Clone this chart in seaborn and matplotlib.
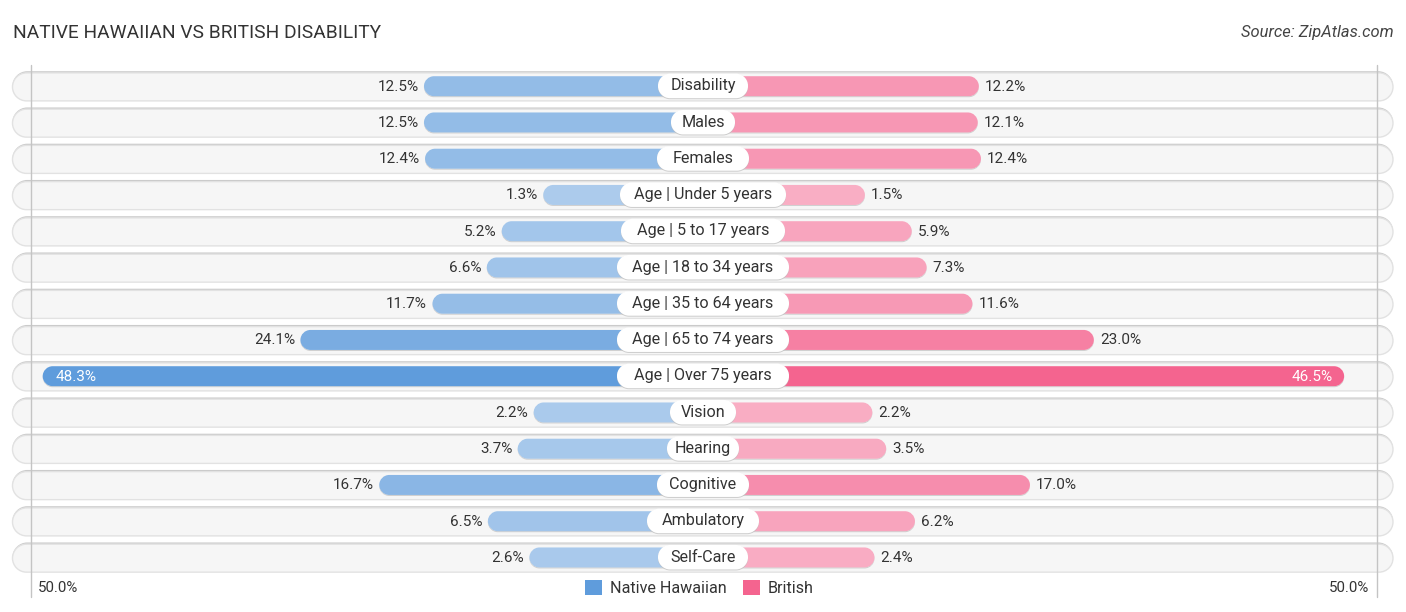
import pandas as pd
import numpy as np
import seaborn as sns
import matplotlib.pyplot as plt
from matplotlib.patches import PathPatch, Patch
from matplotlib.path import Path

#values
categories = ["Disability", "Males", "Females", "Age | Under 5 years", "Age | 5 to 17 years",
              "Age | 18 to 34 years", "Age | 35 to 64 years", "Age | 65 to 74 years",
              "Age | Over 75 years", "Vision", "Hearing", "Cognitive", "Ambulatory", "Self-Care"]
native_hawaiian = [12.5, 12.5, 12.4, 1.3, 5.2, 6.6, 11.7, 24.1, 48.3, 2.2, 3.7, 16.7, 6.5, 2.6]
british = [12.2, 12.1, 12.4, 1.5, 5.9, 7.3, 11.6, 23.0, 46.5, 2.2, 3.5, 17.0, 6.2, 2.4]
pill_widths = [90, 64, 92, 166, 164, 172, 172, 172, 172, 66, 72, 92, 112, 90]

BLUE = "#5f9cdc"
PINK = "#f4648f"
PX_PER_PCT = 10.65  #horizontal scale
ROW_PX = 36.25      #row spacing
START = 13.7        #bars start this far from the middle (hidden under the pill)
W, H = 1406, 612
CENTER = 703
ROW0 = 86.2

sns.set_theme(style="white")
plt.rcParams['font.family'] = ['Roboto', 'DejaVu Sans']

df = pd.DataFrame({
    "category": categories * 2,
    "side": ["Native Hawaiian"] * len(categories) + ["British"] * len(categories),
    "value": native_hawaiian + british,
})
df["pos"] = (df["value"] + START) * np.where(df["side"] == "British", 1, -1)

fig = plt.figure(figsize=(W / 100, H / 100), dpi=100)
ax = fig.add_axes([0, 0, 1, 1])
sns.barplot(data=df, y="category", x="pos", hue="side", dodge=False, width=20 / ROW_PX, saturation=1,
            order=categories, palette={"Native Hawaiian": BLUE, "British": PINK},
            legend=False, ax=ax)
ax.set_xlim(-CENTER / PX_PER_PCT, (W - CENTER) / PX_PER_PCT)
ax.set_ylim((H - ROW0) / ROW_PX, -ROW0 / ROW_PX)
ax.axis("off")

def px(v):
    return v / PX_PER_PCT

def py(v):
    return v / ROW_PX

def round_box(x0, y0, w, h, r, **kw):
    #rounded rectangle with real circular corners, r in pixels
    rx, ry = px(r), py(r)
    k = 1 - 0.5523
    x1, y1 = x0 + w, y0 + h
    verts = [(x0 + rx, y0), (x1 - rx, y0),
             (x1 - k * rx, y0), (x1, y0 + k * ry), (x1, y0 + ry),
             (x1, y1 - ry),
             (x1, y1 - k * ry), (x1 - k * rx, y1), (x1 - rx, y1),
             (x0 + rx, y1),
             (x0 + k * rx, y1), (x0, y1 - k * ry), (x0, y1 - ry),
             (x0, y0 + ry),
             (x0, y0 + k * ry), (x0 + k * rx, y0), (x0 + rx, y0),
             (x0 + rx, y0)]
    codes = [Path.MOVETO, Path.LINETO, Path.CURVE4, Path.CURVE4, Path.CURVE4, Path.LINETO,
             Path.CURVE4, Path.CURVE4, Path.CURVE4, Path.LINETO,
             Path.CURVE4, Path.CURVE4, Path.CURVE4, Path.LINETO,
             Path.CURVE4, Path.CURVE4, Path.CURVE4, Path.CLOSEPOLY]
    p = PathPatch(Path(verts, codes), **kw)
    ax.add_patch(p)
    return p

def bar_alpha(v):
    #stronger colour for the bigger values
    return min(1.0, 0.5 + 0.0138 * v)

seaborn_bars = list(ax.patches)

#tracks behind the bars
track_x0 = (12.5 - CENTER) / PX_PER_PCT
track_w = (1393 - 12.5) / PX_PER_PCT
for i in range(len(categories)):
    round_box(track_x0, i - py(15), track_w, py(29.5), 14.7, fc="#cbcbcb", ec="none", zorder=1)
    round_box(track_x0, i - py(13.3), track_w, py(28), 14, fc="#f6f6f6", ec="#e2e2e2", lw=1, zorder=1.1)

#swap the seaborn bars for rounded ones with same geometry
for bar in seaborn_bars:
    x, y = bar.get_x(), bar.get_y()
    w, h = bar.get_width(), bar.get_height()
    if w == 0:
        continue
    x0, x1 = min(x, x + w), max(x, x + w)
    v = abs(w) - START
    col = bar.get_facecolor()
    bar.set_visible(False)
    round_box(x0, y + py(1), x1 - x0, h, 10, fc="#b5b5b5", ec="none", alpha=0.6, zorder=2)
    round_box(x0, y, x1 - x0, h, 10, fc="white", ec="none", zorder=2.05)
    round_box(x0, y, x1 - x0, h, 10, fc=col, ec="none", alpha=bar_alpha(v), zorder=2.1)

#grid lines at +-50%
for x in (30.5, 1376.5):
    ax.plot([(x - CENTER) / PX_PER_PCT] * 2, [py(65 - ROW0), py(597 - ROW0)], color="#c4c4c4", lw=1, zorder=3)

#value labels and pills
for i, cat in enumerate(categories):
    nh, br = native_hawaiian[i], british[i]
    if nh > 40:
        ax.text(-(nh + START) + px(13), i + py(0.5), "%.1f%%" % nh, color="white", fontsize=11, ha="left", va="center", zorder=4)
    else:
        ax.text(-(nh + START) - px(5.5), i + py(0.5), "%.1f%%" % nh, color="#333333", fontsize=11, ha="right", va="center", zorder=4)
    if br > 40:
        ax.text(br + START - px(11), i + py(0.5), "%.1f%%" % br, color="white", fontsize=11, ha="right", va="center", zorder=4)
    else:
        ax.text(br + START + px(6), i + py(0.5), "%.1f%%" % br, color="#333333", fontsize=11, ha="left", va="center", zorder=4)
    pw = pill_widths[i]
    round_box(-px(pw / 2), i - py(12), px(pw), py(25), 12, fc="#bdbdbd", ec="none", alpha=0.7, zorder=5)
    round_box(-px(pw / 2), i - py(12.5), px(pw), py(24.5), 12, fc="white", ec="none", zorder=5.1)
    ax.text(0, i - py(0.3), cat, color="#333333", fontsize=11.6, ha="center", va="center", zorder=6)

#bottom axis labels
ax.text((38 - CENTER) / PX_PER_PCT, py(588.5 - ROW0), "50.0%", color="#333333", fontsize=10.8, ha="left", va="center")
ax.text((1369 - CENTER) / PX_PER_PCT, py(588.5 - ROW0), "50.0%", color="#333333", fontsize=10.8, ha="right", va="center")

handles = [Patch(fc=BLUE, ec="none", label="Native Hawaiian"), Patch(fc=PINK, ec="none", label="British")]
ax.legend(handles=handles, loc="center", bbox_to_anchor=(699.5 / W, 1 - 588 / H), ncol=2, frameon=False,
          fontsize=11.6, labelcolor="#333333", handlelength=1.05, handleheight=1.05, handletextpad=0.5, columnspacing=1.0)

fig.text(13 / W, 1 - 33 / H, "NATIVE HAWAIIAN VS BRITISH DISABILITY", color="#333333", fontsize=13.8, ha="left", va="center")
fig.text(1394 / W, 1 - 33 / H, "Source: ZipAtlas.com", color="#444444", fontsize=11.9, style="italic", ha="right", va="center")

fig.savefig("out.png", dpi=100)
